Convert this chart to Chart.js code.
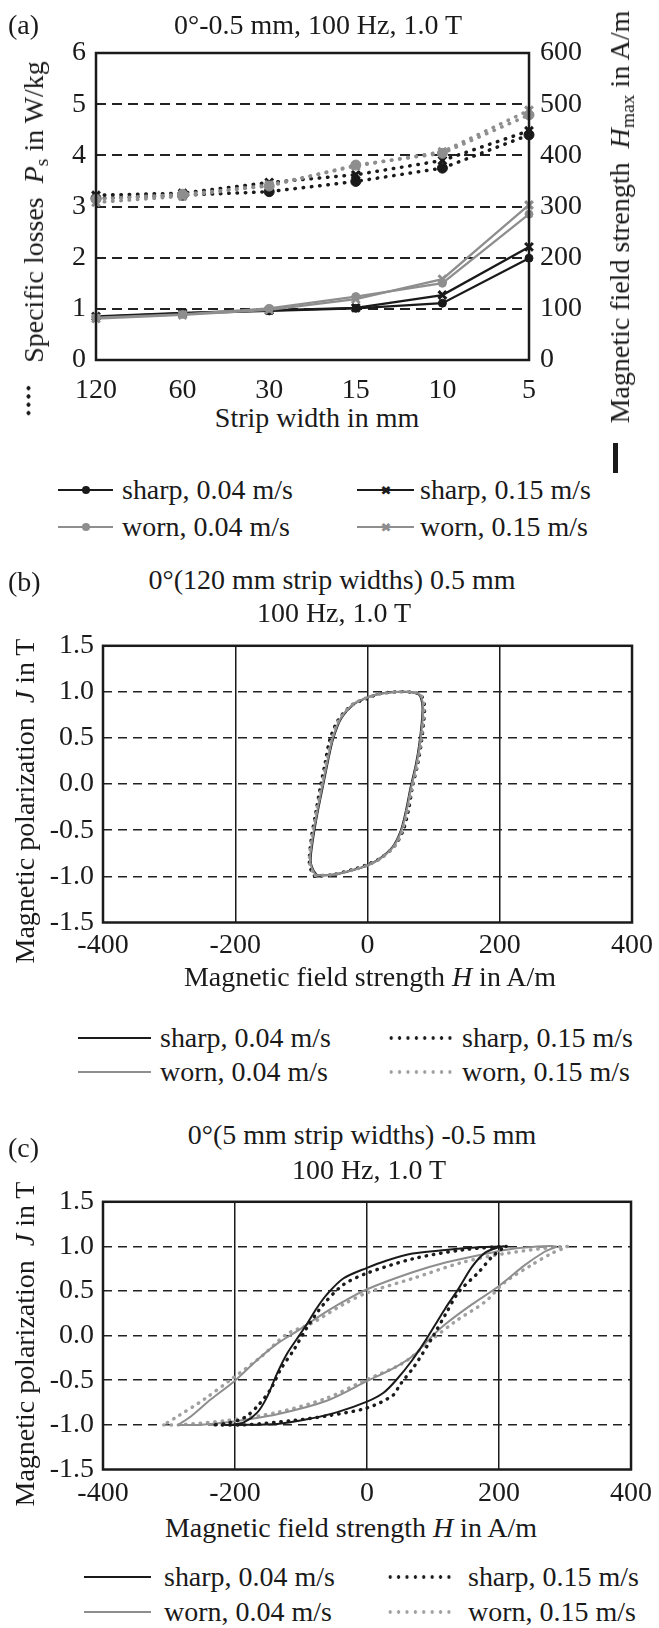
<!DOCTYPE html>
<html>
<head>
<meta charset="utf-8">
<script src="https://cdn.jsdelivr.net/npm/chart.js@4.4.0/dist/chart.umd.min.js"></script>
<style>
body{margin:0;background:#fff;}
#page{position:relative;width:659px;height:1628px;overflow:hidden;font-family:'Liberation Serif','Times New Roman',serif;font-size:28px;color:#1a1a1a;}
canvas{position:absolute;left:0;}
.t,.l,.v{position:absolute;white-space:nowrap;line-height:1;z-index:2;}
.t{transform:translate(-50%,-50%);}
.l{transform:translateY(-50%);}
.v{transform:translate(-50%,-50%) rotate(-90deg);}
sub{font-size:70%;vertical-align:-0.28em;line-height:0;}
.ln{position:absolute;height:0;transform:translateY(-50%);}
.dt{position:absolute;height:4px;transform:translateY(-50%);background-repeat:repeat-x;background-size:8.4px 4px;}
.mk{position:absolute;transform:translate(-50%,-50%);}
</style>
</head>
<body>
<div id="page">
  <canvas id="chartA" width="659" height="400" style="top:0"></canvas>
  <canvas id="chartB" width="659" height="345" style="top:620px"></canvas>
  <canvas id="chartC" width="659" height="334" style="top:1176px"></canvas>

  <!-- (a) texts -->
  <div class="l" style="left:8px;top:25px">(a)</div>
  <div class="t" style="left:318px;top:25px">0°-0.5 mm, 100 Hz, 1.0 T</div>
  <div class="v" style="left:34px;top:212px">Specific losses&nbsp; <i>P</i><sub>s</sub> in W/kg</div>
  <div class="v" style="left:620px;top:217px">Magnetic field strength&nbsp; <i>H</i><sub>max</sub> in A/m</div>
  <div class="t" style="left:317px;top:418px">Strip width in mm</div>
  <div style="position:absolute;left:26px;top:384px;width:5px;height:34px;background:radial-gradient(circle,#1a1a1a 1.8px,transparent 2.3px) 0 0/5px 8.3px repeat-y"></div>
  <div style="position:absolute;left:613px;top:443px;width:4.5px;height:30px;background:#1a1a1a"></div>

  <!-- (a) legend -->
  <div class="ln" style="left:58px;top:490px;width:55px;border-top:2.5px solid #1a1a1a"></div>
  <div class="mk" style="left:86px;top:490px;width:8px;height:8px;border-radius:50%;background:#1a1a1a"></div>
  <div class="l" style="left:122px;top:490px">sharp, 0.04 m/s</div>
  <div class="ln" style="left:357px;top:490px;width:57px;border-top:2.5px solid #1a1a1a"></div>
  <div class="mk" style="left:386px;top:490px;font:bold 13px 'DejaVu Sans';color:#1a1a1a">✖</div>
  <div class="l" style="left:420px;top:490px">sharp, 0.15 m/s</div>
  <div class="ln" style="left:58px;top:527px;width:55px;border-top:2.5px solid #8e8e8e"></div>
  <div class="mk" style="left:86px;top:527px;width:8px;height:8px;border-radius:50%;background:#8e8e8e"></div>
  <div class="l" style="left:122px;top:527px">worn, 0.04 m/s</div>
  <div class="ln" style="left:357px;top:527px;width:57px;border-top:2.5px solid #8e8e8e"></div>
  <div class="mk" style="left:386px;top:527px;font:bold 13px 'DejaVu Sans';color:#8e8e8e">✖</div>
  <div class="l" style="left:420px;top:527px">worn, 0.15 m/s</div>

  <!-- (b) texts -->
  <div class="l" style="left:8px;top:582px">(b)</div>
  <div class="t" style="left:332px;top:580px">0°(120 mm strip widths) 0.5 mm</div>
  <div class="t" style="left:334px;top:613px">100 Hz, 1.0 T</div>
  <div class="v" style="left:25px;top:801px">Magnetic polarization&nbsp; <i>J</i> in T</div>
  <div class="t" style="left:370px;top:977px">Magnetic field strength <i>H</i> in A/m</div>
  <div class="ln" style="left:78px;top:1038px;width:73px;border-top:2px solid #1a1a1a"></div>
  <div class="l" style="left:160px;top:1038px">sharp, 0.04 m/s</div>
  <div class="dt" style="left:387px;top:1038px;width:67px;background-image:radial-gradient(circle,#1a1a1a 1.5px,transparent 2px)"></div>
  <div class="l" style="left:462px;top:1038px">sharp, 0.15 m/s</div>
  <div class="ln" style="left:78px;top:1072px;width:73px;border-top:2px solid #8e8e8e"></div>
  <div class="l" style="left:160px;top:1072px">worn, 0.04 m/s</div>
  <div class="dt" style="left:387px;top:1072px;width:67px;background-image:radial-gradient(circle,#a0a0a0 1.5px,transparent 2px)"></div>
  <div class="l" style="left:462px;top:1072px">worn, 0.15 m/s</div>

  <!-- (c) texts -->
  <div class="l" style="left:8px;top:1148px">(c)</div>
  <div class="t" style="left:362px;top:1135px">0°(5 mm strip widths) -0.5 mm</div>
  <div class="t" style="left:369px;top:1170px">100 Hz, 1.0 T</div>
  <div class="v" style="left:25px;top:1344px">Magnetic polarization&nbsp; <i>J</i> in T</div>
  <div class="t" style="left:351px;top:1528px">Magnetic field strength <i>H</i> in A/m</div>
  <div class="ln" style="left:84px;top:1577px;width:67px;border-top:2px solid #1a1a1a"></div>
  <div class="l" style="left:164px;top:1577px">sharp, 0.04 m/s</div>
  <div class="dt" style="left:386px;top:1577px;width:66px;background-image:radial-gradient(circle,#1a1a1a 1.5px,transparent 2px)"></div>
  <div class="l" style="left:468px;top:1577px">sharp, 0.15 m/s</div>
  <div class="ln" style="left:84px;top:1612px;width:67px;border-top:2px solid #8e8e8e"></div>
  <div class="l" style="left:164px;top:1612px">worn, 0.04 m/s</div>
  <div class="dt" style="left:386px;top:1612px;width:66px;background-image:radial-gradient(circle,#a0a0a0 1.5px,transparent 2px)"></div>
  <div class="l" style="left:468px;top:1612px">worn, 0.15 m/s</div>
</div>

<script>
// ---- (a) specific losses (left axis, dotted) and Hmax (right axis, solid) vs strip width ----
const stripWidths = ['120', '60', '30', '15', '10', '5'];
const psSharp004 = [3.16, 3.22, 3.29, 3.49, 3.75, 4.40];
const psSharp015 = [3.22, 3.26, 3.47, 3.62, 3.90, 4.48];
const psWorn004  = [3.14, 3.24, 3.40, 3.81, 4.04, 4.79];
const psWorn015  = [3.08, 3.20, 3.42, 3.79, 4.07, 4.88];
const hmaxSharp004 = [84, 91, 96, 101, 111, 199];
const hmaxSharp015 = [85, 92, 97, 102, 127, 221];
const hmaxWorn004  = [83, 89, 101, 124, 150, 285];
const hmaxWorn015  = [81, 88, 98, 119, 158, 303];

// ---- (b) hysteresis loops, 120 mm strips (H in A/m, J in T) ----
const bSharp004H = [-76,-50,-17,0,18,38,50,58,65,73,78,82,83,78,62,42,18,0,-20,-40,-52,-60,-67,-75,-82,-86,-82,-76];
const bSharp004J = [-0.99,-0.98,-0.92,-0.88,-0.81,-0.68,-0.51,-0.29,-0.04,0.21,0.42,0.67,0.85,0.97,1.0,1.0,0.98,0.94,0.87,0.71,0.49,0.24,-0.01,-0.29,-0.58,-0.83,-0.93,-0.99];
const bSharp015H = [-80,-52,-15,0,20,41,54,62,68,76,81,85,86,80,63,43,18,0,-23,-44,-57,-64,-71,-78,-85,-88,-85,-80];
const bSharp015J = [-1.0,-0.98,-0.91,-0.87,-0.80,-0.67,-0.50,-0.28,-0.03,0.22,0.43,0.68,0.86,0.97,1.0,1.0,0.98,0.93,0.86,0.70,0.48,0.23,-0.02,-0.30,-0.59,-0.84,-0.94,-1.0];
const bWorn004H = [-78,-51,-16,0,19,39,51,59,66,74,79,83,84,79,64,44,19,0,-21,-41,-53,-61,-68,-76,-83,-87,-83,-78];
const bWorn004J = [-0.99,-0.98,-0.92,-0.88,-0.81,-0.68,-0.51,-0.29,-0.04,0.21,0.42,0.67,0.85,0.97,1.0,1.0,0.98,0.94,0.87,0.71,0.49,0.24,-0.01,-0.29,-0.58,-0.83,-0.93,-0.99];
const bWorn015H = [-79,-52,-16,0,19,40,52,60,67,75,80,84,85,80,65,45,20,0,-21,-42,-54,-62,-69,-77,-84,-88,-84,-79];
const bWorn015J = [-0.99,-0.98,-0.92,-0.88,-0.81,-0.68,-0.51,-0.29,-0.04,0.21,0.42,0.67,0.85,0.97,1.0,1.0,0.98,0.94,0.87,0.71,0.49,0.24,-0.01,-0.29,-0.58,-0.83,-0.93,-0.99];

// ---- (c) hysteresis loops, 5 mm strips ----
const cSharp004H = [-215,-200,-136,-86,-46,0,25,44,69,89,104,119,139,159,179,199,208,169,119,69,29,0,-36,-61,-76,-91,-101,-121,-136,-151,-166,-186,-206,-215];
const cSharp004J = [-1.0,-1.0,-0.99,-0.93,-0.86,-0.74,-0.64,-0.5,-0.27,-0.05,0.13,0.31,0.53,0.77,0.93,0.99,1.0,0.99,0.96,0.92,0.84,0.76,0.64,0.46,0.31,0.13,0.02,-0.2,-0.42,-0.68,-0.86,-0.97,-1.0,-1.0];
const cSharp015H = [-230,-186,-111,-61,0,39,50,72,99,119,139,169,189,204,212,144,69,0,-36,-66,-91,-111,-131,-146,-166,-186,-211,-230];
const cSharp015J = [-1.0,-1.0,-0.95,-0.9,-0.81,-0.67,-0.55,-0.34,-0.02,0.24,0.49,0.71,0.88,0.97,1.0,0.96,0.86,0.70,0.57,0.35,0.09,-0.16,-0.38,-0.6,-0.79,-0.92,-0.98,-1.0];
const cWorn004H = [-286,-256,-211,-136,-61,0,39,71,94,119,159,199,239,269,286,244,209,169,119,69,0,-36,-76,-106,-136,-166,-201,-236,-266,-286];
const cWorn004J = [-1.0,-1.0,-0.97,-0.88,-0.73,-0.51,-0.37,-0.22,-0.04,0.13,0.35,0.55,0.79,0.94,1.0,0.99,0.96,0.9,0.82,0.71,0.52,0.38,0.2,0.05,-0.09,-0.27,-0.51,-0.71,-0.9,-1.0];
const cWorn015H = [-308,-286,-211,-136,-61,0,44,64,94,134,179,209,249,279,303,209,144,69,0,-36,-86,-121,-161,-206,-246,-286,-308];
const cWorn015J = [-1.0,-1.0,-0.95,-0.86,-0.7,-0.49,-0.35,-0.26,-0.07,0.16,0.38,0.6,0.79,0.92,1.0,0.92,0.82,0.64,0.48,0.35,0.13,0.02,-0.24,-0.49,-0.71,-0.9,-1.0];

const BLACK = '#1a1a1a';
const GREY = '#8e8e8e';
const GREY_DOT = '#a0a0a0';

// pick a Times-like serif that is really installed, and size it so the text widths match
function hasFont(name) {
  const c = document.createElement('canvas').getContext('2d');
  const s = 'mmmmmwwwlli1100WQ';
  c.font = '40px monospace';
  const w1 = c.measureText(s).width;
  c.font = '40px "' + name + '", monospace';
  return c.measureText(s).width !== w1;
}
const serifs = ['Liberation Serif', 'Tinos', 'Times New Roman', 'Nimbus Roman', 'FreeSerif', 'DejaVu Serif', 'Noto Serif'];
const found = serifs.find(hasFont);
const family = (found ? '"' + found + '", ' : '') + 'serif';
const probe = document.createElement('canvas').getContext('2d');
probe.font = '100px ' + family;
let fontSize = 171 / probe.measureText('sharp, 0.04 m/s').width * 100;
fontSize = Math.max(22, Math.min(32, fontSize));
const page = document.getElementById('page');
page.style.fontFamily = family;
page.style.fontSize = fontSize + 'px';

Chart.defaults.font.family = family;
Chart.defaults.font.size = fontSize;
Chart.defaults.color = BLACK;

// plot frame round the chart area
const frame = {
  id: 'frame',
  afterDraw(chart) {
    const {ctx, chartArea: a} = chart;
    ctx.save();
    ctx.strokeStyle = BLACK;
    ctx.lineWidth = 2.5;
    ctx.strokeRect(a.left, a.top, a.right - a.left, a.bottom - a.top);
    ctx.restore();
  }
};

function psSet(label, data, color, style, order) {
  return {
    label, data, yAxisID: 'y', order,
    borderColor: color, backgroundColor: color,
    borderWidth: 3.5, borderDash: [0.5, 7.8], borderCapStyle: 'round',
    pointStyle: style, pointRadius: style === 'circle' ? 5 : 5.5,
    pointBorderWidth: style === 'circle' ? 1 : 3,
    pointBackgroundColor: color, pointBorderColor: color
  };
}
function hSet(label, data, color, style, order) {
  return {
    label, data, yAxisID: 'y2', order,
    borderColor: color, backgroundColor: color, borderWidth: 2.3,
    pointStyle: style, pointRadius: style === 'circle' ? 4 : 5.5,
    pointBorderWidth: style === 'circle' ? 1 : 3,
    pointBackgroundColor: color, pointBorderColor: color
  };
}

new Chart(document.getElementById('chartA'), {
  type: 'line',
  data: {
    labels: stripWidths,
    datasets: [
      psSet('sharp, 0.04 m/s', psSharp004, BLACK, 'circle', 7),
      psSet('sharp, 0.15 m/s', psSharp015, BLACK, 'crossRot', 6),
      psSet('worn, 0.04 m/s', psWorn004, GREY, 'circle', 5),
      psSet('worn, 0.15 m/s', psWorn015, GREY, 'crossRot', 4),
      hSet('sharp, 0.04 m/s', hmaxSharp004, BLACK, 'circle', 3),
      hSet('sharp, 0.15 m/s', hmaxSharp015, BLACK, 'crossRot', 2),
      hSet('worn, 0.04 m/s', hmaxWorn004, GREY, 'circle', 1),
      hSet('worn, 0.15 m/s', hmaxWorn015, GREY, 'crossRot', 0)
    ]
  },
  options: {
    responsive: false, animation: false,
    layout: {padding: {top: 53, left: 0, right: 0, bottom: 0}},
    plugins: {legend: {display: false}, tooltip: {enabled: false}},
    scales: {
      x: {
        grid: {display: false}, border: {display: false},
        ticks: {padding: 6},
        afterFit: s => { s.height = 40; }
      },
      y: {
        position: 'left', min: 0, max: 6,
        ticks: {stepSize: 1, padding: 10},
        grid: {drawTicks: false, lineWidth: 2, color: c => (c.tick.value > 0 && c.tick.value < 6) ? '#222' : 'rgba(0,0,0,0)'},
        border: {display: false, dash: [10, 6]},
        afterFit: s => { s.width = 96; }
      },
      y2: {
        position: 'right', min: 0, max: 600,
        ticks: {stepSize: 100, padding: 11},
        grid: {display: false, drawTicks: false}, border: {display: false},
        afterFit: s => { s.width = 130; }
      }
    }
  },
  plugins: [frame]
});

function loop(label, hs, js, color, dotted, order) {
  return {
    label, order,
    data: hs.map((h, i) => ({x: h, y: js[i]})),
    showLine: true, pointRadius: 0, tension: 0.3,
    borderColor: color, borderWidth: dotted ? 3.4 : 2,
    borderDash: dotted ? [0.5, 6.8] : [], borderCapStyle: 'round'
  };
}

function loopOptions(padTop, axisHeight, tickPad) {
  return {
    responsive: false, animation: false,
    layout: {padding: {top: padTop, left: 0, right: 22.5, bottom: 0}},
    plugins: {legend: {display: false}, tooltip: {enabled: false}},
    scales: {
      x: {
        type: 'linear', min: -400, max: 400,
        ticks: {stepSize: 200, padding: tickPad},
        grid: {drawTicks: false, lineWidth: 1.5, color: c => Math.abs(c.tick.value) === 400 ? 'rgba(0,0,0,0)' : BLACK},
        border: {display: false},
        afterFit: s => { s.height = axisHeight; }
      },
      y: {
        min: -1.5, max: 1.5,
        ticks: {stepSize: 0.5, padding: 9, callback: v => v.toFixed(1)},
        grid: {drawTicks: false, lineWidth: 1.6, color: c => Math.abs(c.tick.value) === 1.5 ? 'rgba(0,0,0,0)' : '#222'},
        border: {display: false, dash: [9, 6]},
        afterFit: s => { s.width = 103; }
      }
    }
  };
}

new Chart(document.getElementById('chartB'), {
  type: 'scatter',
  data: {
    datasets: [
      loop('sharp, 0.04 m/s', bSharp004H, bSharp004J, BLACK, false, 3),
      loop('sharp, 0.15 m/s', bSharp015H, bSharp015J, BLACK, true, 2),
      loop('worn, 0.04 m/s', bWorn004H, bWorn004J, GREY, false, 0),
      loop('worn, 0.15 m/s', bWorn015H, bWorn015J, GREY_DOT, true, 1)
    ]
  },
  options: loopOptions(22, 42.5, 6),
  plugins: [frame]
});

new Chart(document.getElementById('chartC'), {
  type: 'scatter',
  data: {
    datasets: [
      loop('sharp, 0.04 m/s', cSharp004H, cSharp004J, BLACK, false, 0),
      loop('sharp, 0.15 m/s', cSharp015H, cSharp015J, BLACK, true, 1),
      loop('worn, 0.04 m/s', cWorn004H, cWorn004J, GREY, false, 2),
      loop('worn, 0.15 m/s', cWorn015H, cWorn015J, GREY_DOT, true, 3)
    ]
  },
  options: loopOptions(20.5, 40.5, 7),
  plugins: [frame]
});
</script>
</body>
</html>
